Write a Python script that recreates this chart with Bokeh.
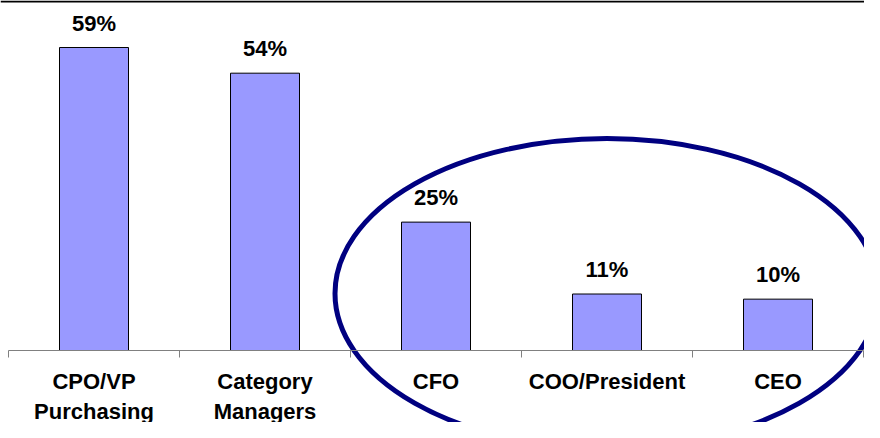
import numpy as np
from bokeh.plotting import figure
from bokeh.models import (ColumnDataSource, Range1d, LinearAxis, FixedTicker,
                          LabelSet, Span)
from bokeh.core.properties import value
from bokeh.embed import file_html
from bokeh.resources import INLINE

# ---- data ----
categories = ["CPO/VP\nPurchasing", "Category\nManagers", "CFO",
              "COO/President", "CEO"]
values = [59, 54, 25, 11, 10]
value_labels = [f"{v}%" for v in values]

# ---- layout constants (styles / geometry) ----
W, H = 864, 422
LEFT_PX = 8             # x pixel of first category boundary
CAT_PX = 171.0          # pixels per category
BASE_PX = 350           # baseline, px from top of figure
PX_PER_PCT = (BASE_PX - 47) / 59.0   # pixels per percent

x_start = -LEFT_PX / CAT_PX
x_end = (W - LEFT_PX) / CAT_PX
y_top = BASE_PX / PX_PER_PCT
y_bot = -(H - BASE_PX) / PX_PER_PCT

centers = [i + 0.5 for i in range(len(categories))]
bounds = list(range(len(categories) + 1))

src = ColumnDataSource(dict(x=centers, top=values, lab=value_labels))

p = figure(width=W, height=H, output_backend="svg", toolbar_location=None,
           x_range=Range1d(x_start, x_end), y_range=Range1d(y_bot, y_top),
           x_axis_type=None, y_axis_type=None, min_border=0,
           background_fill_color="white", border_fill_color="white")
p.outline_line_color = None

p.vbar(x="x", top="top", width=69 / CAT_PX, bottom=0, source=src,
       fill_color="#9999FF", line_color="black", line_width=1)

labels = LabelSet(x="x", y="top", text="lab", source=src, y_offset=17,
                  text_align="center", text_baseline="alphabetic",
                  text_font=value("Liberation Sans"),
                  text_font_style="bold",
                  text_font_size="22px", text_color="black")
p.add_layout(labels)

ax = LinearAxis(fixed_location=0, bounds=(0, len(categories)))
ax.ticker = FixedTicker(ticks=centers, minor_ticks=bounds)
ax.major_label_overrides = {c: lab for c, lab in zip(centers, categories)}
ax.axis_line_color = "#808080"
ax.axis_line_width = 1
ax.major_tick_out = 0
ax.major_tick_in = 0
ax.minor_tick_out = 7
ax.minor_tick_in = 0
ax.minor_tick_line_color = "#808080"
ax.major_label_standoff = 11
ax.major_label_text_font = "Liberation Sans"
ax.major_label_text_font_style = "bold"
ax.major_label_text_font_size = "22px"
ax.major_label_text_color = "black"
ax.major_label_text_line_height = 1.2
p.add_layout(ax, "below")

# top border line
p.add_layout(Span(location=y_top - 1 / PX_PER_PCT, dimension="width",
                  line_color="black", line_width=2))

# highlight ellipse around the executive categories
p.ellipse(x=3.5, y=(BASE_PX - 293) / PX_PER_PCT,
          width=544 / CAT_PX, height=310 / PX_PER_PCT,
          fill_color=None, line_color="#000080", line_width=5)

open("out.html", "w").write(file_html(p, INLINE))
